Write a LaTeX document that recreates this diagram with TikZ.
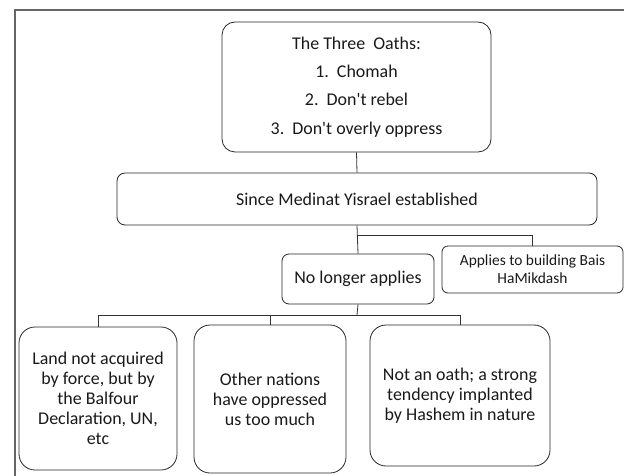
\documentclass[tikz,border=0pt]{standalone}
\usepackage{fontspec}
\setmainfont{Carlito}
\usetikzlibrary{positioning}

\begin{document}
\begin{tikzpicture}[
        x=1bp,
        y=-1bp,
        box/.style={
            draw=black!85,
            line width=0.8pt,
            rounded corners=8bp,
            align=center,
            inner sep=0pt,
            text=black!90
        },
        link/.style={
            draw=black!80,
            line width=0.8pt
        },
        frame/.style={
            draw=black!60,
            line width=1.2pt
        },
        every node/.style={
            font=\fontsize{18}{20}\selectfont
        }
    ]

    \useasboundingbox (0,0) rectangle (624,476);

    % Outer frame
    \draw[frame] (15,476) -- (15,10) -- (624,10);

    % The oaths and the state
    \node[box, rounded corners=13bp, minimum width=269bp, minimum height=130bp,
        font=\fontsize{18}{28.3}\selectfont] (oaths) at (356.5,87)
        {The Three\hspace{0.45em}Oaths:\\
         1.\hspace{0.45em}Chomah\\
         2.\hspace{0.45em}Don\textquotesingle t rebel\\
         3.\hspace{0.45em}Don\textquotesingle t overly oppress};

    \node[box, minimum width=480bp, minimum height=52bp] (since) at (357,199)
        {Since Medinat Yisrael established};

    % Second level
    \node[box, rounded corners=7bp, minimum width=152bp, minimum height=50bp] (nolonger) at (358,279)
        {No longer applies};
    \node[box, rounded corners=6bp, minimum width=181bp, minimum height=47bp,
        font=\fontsize{15.5}{18}\selectfont] (bais) at (532.5,269.5)
        {Applies to building Bais\\ HaMikdash};

    % Reasons
    \node[box, rounded corners=16bp, minimum width=158bp, minimum height=143bp] (land) at (98,398.5)
        {Land not acquired\\ by force, but by\\ the Balfour\\ Declaration, UN,\\ etc};
    \node[box, rounded corners=16bp, minimum width=152bp, minimum height=148bp] (other) at (270,399)
        {Other nations\\ have oppressed\\ us too much};
    \node[box, rounded corners=16bp, minimum width=180bp, minimum height=141bp] (nature) at (460,395.5)
        {Not an oath; a strong\\ tendency implanted\\ by Hashem in nature};

    % Connectors
    \coordinate (split) at (357,235);
    \coordinate (fork) at (357,315);

    \draw[link] (oaths.south) -- (since.north);
    \draw[link] (since.south) -- (nolonger.north);
    \draw[link] (split) -| (bais.north);

    \draw[link] (nolonger.south) -- (fork);
    \foreach \n in {land,other,nature}
        \draw[link] (fork) -| (\n.north);

\end{tikzpicture}
\end{document}
